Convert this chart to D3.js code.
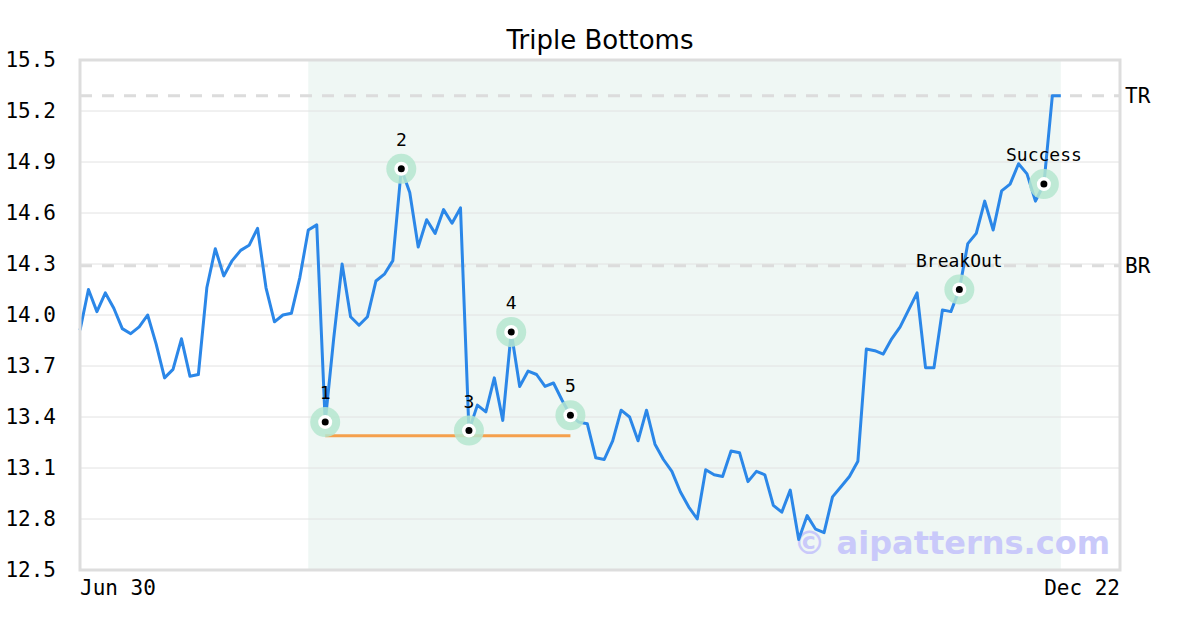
<!DOCTYPE html>
<html lang="en">
<head>
<meta charset="utf-8">
<title>Triple Bottoms</title>
<script src="https://d3js.org/d3.v7.min.js"></script>
<style>
  body { margin: 0; background: #fff; }
  text { font-family: "DejaVu Sans Mono", monospace; }
</style>
</head>
<body>
<div id="chart"></div>
<script>
// closing prices, one per trading day
var prices = [
  13.91, 14.15, 14.02, 14.13, 14.04, 13.92, 13.89, 13.93, 14.00, 13.83,
  13.63, 13.68, 13.86, 13.64, 13.65, 14.16, 14.39, 14.23, 14.32, 14.38,
  14.41, 14.51, 14.16, 13.96, 14.00, 14.01, 14.22, 14.50, 14.53, 13.37,
  13.86, 14.30, 13.99, 13.94, 13.99, 14.20, 14.24, 14.32, 14.86, 14.72,
  14.40, 14.56, 14.48, 14.62, 14.54, 14.63, 13.32, 13.47, 13.43, 13.63,
  13.38, 13.90, 13.58, 13.67, 13.65, 13.58, 13.60, 13.50, 13.41, 13.37,
  13.36, 13.16, 13.15, 13.26, 13.44, 13.40, 13.26, 13.44, 13.24, 13.15,
  13.08, 12.96, 12.87, 12.80, 13.09, 13.06, 13.05, 13.20, 13.19, 13.02,
  13.08, 13.06, 12.88, 12.84, 12.97, 12.68, 12.82, 12.74, 12.72, 12.93,
  12.99, 13.05, 13.14, 13.80, 13.79, 13.77, 13.86, 13.93, 14.03, 14.13,
  13.69, 13.69, 14.03, 14.02, 14.15, 14.42, 14.48, 14.67, 14.50, 14.73,
  14.77, 14.89, 14.83, 14.67, 14.77, 15.29, 15.29
];

// pattern points (index into prices) and their labels
var pointIdx = [29, 38, 46, 51, 58, 104, 114];
var pointLabels = ["1", "2", "3", "4", "5", "BreakOut", "Success"];

// pattern window, support line and levels
var patternStart = 27, patternEnd = 116;
var supportFrom = 29, supportTo = 58, supportLevel = 13.29;
var levelValues = [15.29, 14.29];
var levelLabels = ["TR", "BR"];

// axes
var yTicks = [12.5, 12.8, 13.1, 13.4, 13.7, 14.0, 14.3, 14.6, 14.9, 15.2, 15.5];
var xTickIdx = [0, 123];
var xTickLabels = ["Jun 30", "Dec 22"];

var W = 1200, H = 630;
var margin = {top: 60, right: 80, bottom: 60, left: 80};
var width = W - margin.left - margin.right,
    height = H - margin.top - margin.bottom;

var svg = d3.select("#chart").append("svg")
    .attr("width", W).attr("height", H);

svg.append("text")
    .attr("x", W / 2).attr("y", 49)
    .attr("text-anchor", "middle")
    .style("font-family", "'DejaVu Sans', sans-serif")
    .style("font-size", "26px")
    .text("Triple Bottoms");

var g = svg.append("g")
    .attr("transform", "translate(" + margin.left + "," + margin.top + ")");

var x = d3.scaleLinear().domain([0, 123]).range([0, width]);
var y = d3.scaleLinear().domain([12.5, 15.5]).range([height, 0]);

// pattern shading
g.append("rect")
    .attr("x", x(patternStart)).attr("y", 0)
    .attr("width", x(patternEnd) - x(patternStart))
    .attr("height", height)
    .attr("fill", "#eff7f4");

// grid
g.selectAll(".grid").data(yTicks).enter().append("line")
    .attr("x1", 0).attr("x2", width)
    .attr("y1", function(d) { return y(d); })
    .attr("y2", function(d) { return y(d); })
    .attr("stroke", "#e2e2e2").attr("stroke-width", 1);

// y axis labels
var yAxis = g.append("g").call(d3.axisLeft(y).tickValues(yTicks)
    .tickFormat(d3.format(".1f")).tickSize(0).tickPadding(24));
yAxis.select(".domain").remove();
yAxis.selectAll("text")
    .style("font-family", "'DejaVu Sans Mono', monospace")
    .style("font-size", "21px").attr("fill", "#000");

// x axis labels
g.selectAll(".xlab").data(xTickIdx).enter().append("text")
    .attr("x", function(d) { return x(d); })
    .attr("y", height + 25)
    .attr("text-anchor", function(d, i) { return i === 0 ? "start" : "end"; })
    .style("font-size", "21px")
    .text(function(d, i) { return xTickLabels[i]; });

// TR / BR levels
g.selectAll(".level").data(levelValues).enter().append("line")
    .attr("x1", 0).attr("x2", width)
    .attr("y1", function(d) { return y(d); })
    .attr("y2", function(d) { return y(d); })
    .attr("stroke", "#dcdcdc").attr("stroke-width", 3)
    .attr("stroke-dasharray", "12,10");
g.selectAll(".levelLab").data(levelValues).enter().append("text")
    .attr("x", width + 5)
    .attr("y", function(d) { return y(d); })
    .attr("dy", "0.35em")
    .style("font-size", "21px")
    .text(function(d, i) { return levelLabels[i]; });

// watermark
g.append("text")
    .attr("x", 1110 - margin.left).attr("y", 554 - margin.top)
    .attr("text-anchor", "end")
    .style("font-family", "'DejaVu Sans', sans-serif")
    .style("font-weight", "bold")
    .style("font-size", "32px")
    .attr("fill", "#c9c9fa")
    .text("© aipatterns.com");

// support line
g.append("line")
    .attr("x1", x(supportFrom)).attr("x2", x(supportTo))
    .attr("y1", y(supportLevel)).attr("y2", y(supportLevel))
    .attr("stroke", "#f5a04c").attr("stroke-width", 3);

// price line
var line = d3.line()
    .x(function(d, i) { return x(i); })
    .y(function(d) { return y(d); });
g.append("path").datum(prices)
    .attr("d", line)
    .attr("fill", "none")
    .attr("stroke", "#2b87e8")
    .attr("stroke-width", 3)
    .attr("stroke-linejoin", "round");

// pattern markers
var pts = g.selectAll(".pt").data(pointIdx).enter().append("g")
    .attr("transform", function(d) { return "translate(" + x(d) + "," + y(prices[d]) + ")"; });
pts.append("circle").attr("r", 15).attr("fill", "#b5e6cf").attr("opacity", 0.85);
pts.append("circle").attr("r", 7).attr("fill", "#fff");
pts.append("circle").attr("r", 3.5).attr("fill", "#000");
pts.append("text")
    .attr("y", -23)
    .attr("text-anchor", "middle")
    .style("font-size", "18px")
    .text(function(d, i) { return pointLabels[i]; });

// plot frame
g.append("rect")
    .attr("width", width).attr("height", height)
    .attr("fill", "none").attr("stroke", "#dddddd").attr("stroke-width", 3);
</script>
</body>
</html>
